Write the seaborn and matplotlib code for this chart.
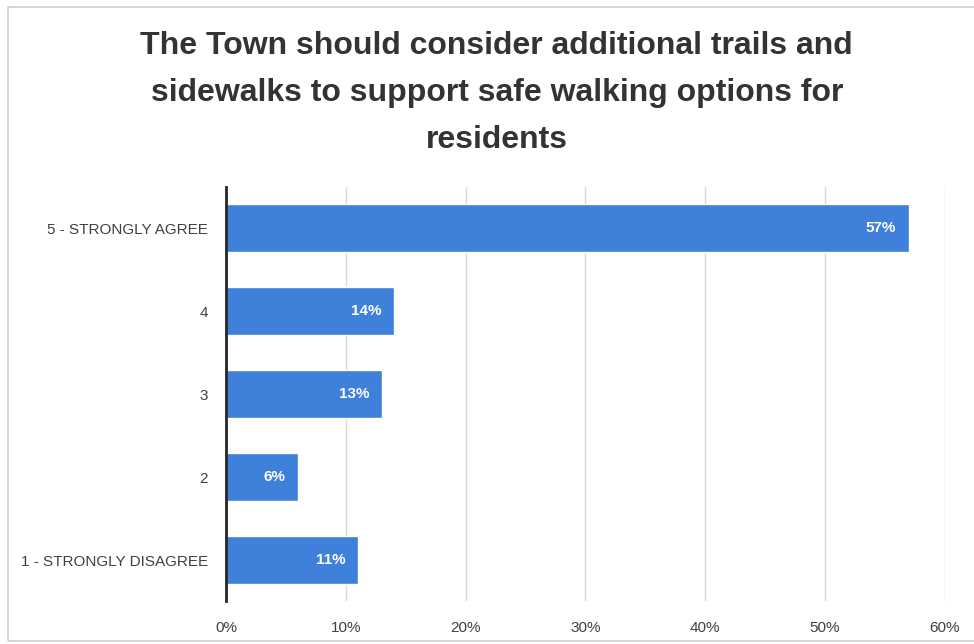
import matplotlib
matplotlib.use("Agg")
import matplotlib.pyplot as plt
from matplotlib.patches import Rectangle
from matplotlib.ticker import PercentFormatter
import seaborn as sns
import pandas as pd

responses = ["5 - STRONGLY AGREE", "4", "3", "2", "1 - STRONGLY DISAGREE"]
shares = [0.57, 0.14, 0.13, 0.06, 0.11]
tick_values = [0.0, 0.1, 0.2, 0.3, 0.4, 0.5, 0.6]

title = ("The Town should consider additional trails and\n"
         "sidewalks to support safe walking options for\n"
         "residents")

df = pd.DataFrame({"response": responses, "share": shares})

sns.set_theme(style="white")
plt.rcParams["font.family"] = ["Liberation Sans", "DejaVu Sans"]

fig = plt.figure(figsize=(9.74, 6.44), dpi=100)
ax = fig.add_axes([0.232, 0.066, 0.738, 0.644])

sns.barplot(data=df, x="share", y="response", orient="h", color="#3e80da",
            saturation=1, width=0.58, ax=ax, zorder=3)

ax.set_xlim(0, 0.6)
ax.set_xticks(tick_values)
ax.xaxis.set_major_formatter(PercentFormatter(1.0, decimals=0))
ax.set_xlabel("")
ax.set_ylabel("")
ax.grid(axis="x", color="#d9d9d9", linewidth=1, zorder=0)
ax.grid(axis="y", visible=False)
for side in ["top", "right", "bottom"]:
    ax.spines[side].set_visible(False)
ax.spines["left"].set_color("#262626")
ax.spines["left"].set_linewidth(2)
ax.spines["left"].set_zorder(4)
ax.tick_params(axis="y", length=0, pad=13, labelsize=11, labelcolor="#404040")
ax.tick_params(axis="x", length=0, pad=14, labelsize=11, labelcolor="#404040")

for patch, val in zip(ax.patches, shares):
    ax.text(patch.get_width() - 0.0105, patch.get_y() + patch.get_height() / 2,
            f"{val * 100:.0f}%", ha="right", va="center", color="white",
            fontsize=11, fontweight="bold", zorder=5)

fig.text(0.51, 1 - 93 / 644, title, ha="center", va="center", fontsize=23,
         fontweight="bold", color="#333333", linespacing=1.75)

fig.patches.append(Rectangle((8 / 974, 3 / 644), 1.2, 634 / 644,
                             transform=fig.transFigure, fill=False,
                             edgecolor="#d0d0d0", linewidth=1.2))

fig.savefig("out.png", dpi=100)
